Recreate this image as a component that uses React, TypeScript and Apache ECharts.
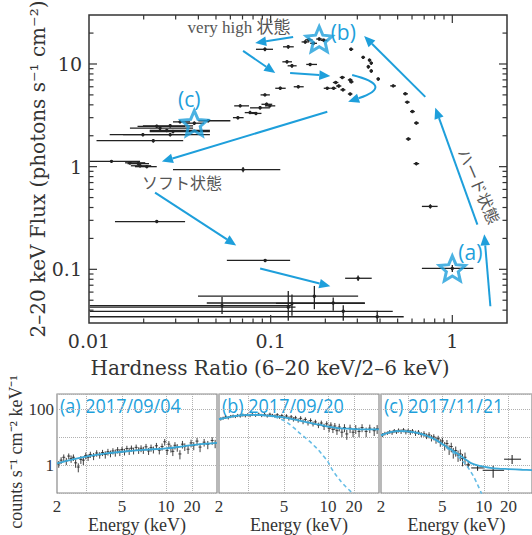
import React, { useEffect, useRef } from 'react';
import * as echarts from 'echarts';

// ---------- main panel: hardness ratio vs 2-20 keV flux ----------
// [hardness, flux, hardnessLow, hardnessHigh, fluxLow, fluxHigh]
const hardnessFlux: number[][] = [
  [0.093, 13.9, 0.083, 0.103, 13.3, 14.5],
  [0.125, 14.7, 0.117, 0.134, 14.1, 15.3],
  [0.123, 10.5, 0.116, 0.131, 10.1, 10.9],
  [0.131, 9.6, 0.124, 0.139, 9.2, 10.0],
  [0.155, 16.4, 0.148, 0.163, 15.8, 17.0],
  [0.162, 17.2, 0.155, 0.17, 16.6, 17.8],
  [0.172, 15.9, 0.165, 0.18, 15.3, 16.5],
  [0.196, 17.0, 0.188, 0.205, 16.4, 17.6],
  [0.185, 17.5, 0.178, 0.193, 16.9, 18.1],
  [0.277, 13.9, 0.27, 0.285, 13.4, 14.4],
  [0.323, 11.6, 0.316, 0.331, 11.2, 12.0],
  [0.35, 10.9, 0.343, 0.358, 10.5, 11.3],
  [0.358, 10.2, 0.351, 0.366, 9.8, 10.6],
  [0.345, 9.4, 0.338, 0.353, 9.0, 9.8],
  [0.358, 8.55, 0.351, 0.366, 8.2, 8.9],
  [0.391, 7.15, 0.383, 0.4, 6.9, 7.4],
  [0.165, 9.9, 0.157, 0.18, 9.6, 10.2],
  [0.113, 5.8, 0.106, 0.121, 5.6, 6.0],
  [0.142, 6.0, 0.134, 0.152, 5.8, 6.2],
  [0.093, 5.0, 0.088, 0.099, 4.85, 5.15],
  [0.068, 3.91, 0.063, 0.076, 3.8, 4.05],
  [0.0875, 3.74, 0.077, 0.099, 3.6, 3.9],
  [0.099, 3.91, 0.093, 0.106, 3.8, 4.05],
  [0.095, 4.05, 0.089, 0.102, 3.9, 4.2],
  [0.077, 3.36, 0.072, 0.083, 3.25, 3.5],
  [0.083, 3.3, 0.078, 0.089, 3.2, 3.4],
  [0.066, 3.0, 0.062, 0.071, 2.9, 3.1],
  [0.0453, 2.8, 0.04, 0.06, 2.7, 2.9],
  [0.038, 2.65, 0.034, 0.043, 2.55, 2.75],
  [0.028, 2.5, 0.0198, 0.0374, 2.4, 2.6],
  [0.0246, 2.37, 0.0168, 0.0374, 2.28, 2.46],
  [0.0268, 2.25, 0.0216, 0.0463, 2.17, 2.33],
  [0.029, 2.2, 0.0216, 0.0463, 2.12, 2.28],
  [0.0198, 2.05, 0.013, 0.0347, 1.97, 2.13],
  [0.028, 2.05, 0.0154, 0.0463, 1.97, 2.13],
  [0.0226, 1.79, 0.011, 0.033, 1.72, 1.86],
  [0.0317, 2.73, 0.029, 0.036, 2.65, 2.81],
  [0.0236, 2.47, 0.0185, 0.0338, 2.38, 2.56],
  [0.0133, 1.126, 0.0101, 0.0191, 1.09, 1.16],
  [0.0168, 1.09, 0.0158, 0.0204, 1.05, 1.13],
  [0.0187, 1.07, 0.0163, 0.0214, 1.03, 1.11],
  [0.0208, 1.0, 0.0179, 0.0236, 0.965, 1.035],
  [0.0191, 1.02, 0.017, 0.022, 0.985, 1.055],
  [0.0705, 0.935, 0.029, 0.113, 0.88, 0.99],
  [0.473, 6.12, 0.455, 0.49, 5.95, 6.3],
  [0.551, 5.12, 0.535, 0.57, 4.98, 5.26],
  [0.565, 4.25, 0.548, 0.583, 4.13, 4.37],
  [0.603, 3.44, 0.585, 0.622, 3.34, 3.54],
  [0.634, 2.66, 0.615, 0.655, 2.58, 2.74],
  [0.573, 1.86, 0.555, 0.592, 1.8, 1.92],
  [0.634, 1.07, 0.612, 0.657, 1.03, 1.11],
  [0.757, 0.41, 0.68, 0.83, 0.39, 0.43],
  [1.0, 0.102, 0.68, 1.306, 0.094, 0.11],
  [0.303, 0.0818, 0.257, 0.36, 0.077, 0.087],
  [0.248, 7.4, 0.24, 0.256, 7.2, 7.6],
  [0.274, 7.0, 0.266, 0.282, 6.8, 7.2],
  [0.278, 6.7, 0.27, 0.286, 6.5, 6.9],
  [0.228, 6.6, 0.22, 0.236, 6.4, 6.8],
  [0.237, 6.1, 0.229, 0.245, 5.9, 6.3],
  [0.222, 5.8, 0.214, 0.23, 5.63, 5.97],
  [0.205, 5.8, 0.196, 0.214, 5.63, 5.97],
  [0.25, 5.6, 0.242, 0.258, 5.44, 5.76],
  [0.274, 5.1, 0.266, 0.282, 4.95, 5.25],
  [0.0236, 0.292, 0.0139, 0.0338, 0.285, 0.299],
  [0.0933, 0.122, 0.0574, 0.128, 0.118, 0.126],
  [0.174, 0.0547, 0.0398, 0.303, 0.0409, 0.0689],
  [0.221, 0.047, 0.0445, 0.33, 0.0394, 0.0531],
  [0.054, 0.0443, 0.0101, 0.13, 0.0368, 0.0536],
  [0.125, 0.0428, 0.0101, 0.137, 0.0315, 0.0615],
  [0.131, 0.0465, 0.107, 0.33, 0.0352, 0.057],
  [0.251, 0.039, 0.0101, 0.47, 0.0315, 0.0446],
  [0.386, 0.0345, 0.0101, 0.54, 0.0305, 0.0394],
];

const starPoints = [[1.0, 0.102], [0.185, 17.5], [0.038, 2.65]];
const starLabels = ['(a)', '(b)', '(c)'];
const starLabelPos = [[1.256, 0.146], [0.251, 20.5], [0.0356, 4.57]];

const stateLabels = ['very high 状態', 'ソフト状態', 'ハード状態'];
const stateLabelPos = [[0.067, 22.9], [0.0325, 0.692], [1.39, 0.64]];

// [fromHR, fromFlux, toHR, toFlux]
const arrows = [
  [0.133, 18.3, 0.0822, 16.0],
  [0.0705, 13.4, 0.106, 8.18],
  [0.128, 8.18, 0.213, 7.65],
  [0.205, 3.42, 0.0252, 1.12],
  [0.71, 4.78, 0.327, 18.7],
  [1.374, 0.273, 0.806, 3.74],
  [1.62, 0.0437, 1.5, 0.219],
  [0.0231, 0.559, 0.0646, 0.171],
  [0.0875, 0.102, 0.213, 0.0684],
];
// [fromHR, fromFlux, ctrlHR, ctrlFlux, toHR, toFlux]
const curvedArrows = [[0.281, 7.82, 0.485, 6.12, 0.267, 4.28]];

const hrMajorTicks = [0.1, 1];
const hrMinorTicks = [0.02, 0.03, 0.04, 0.05, 0.06, 0.07, 0.08, 0.09, 0.2, 0.3, 0.4, 0.5, 0.6, 0.7, 0.8, 0.9];
const fluxMajorTicks = [0.1, 1, 10];
const fluxMinorTicks = [0.04, 0.05, 0.06, 0.07, 0.08, 0.09, 0.2, 0.3, 0.4, 0.5, 0.6, 0.7, 0.8, 0.9, 2, 3, 4, 5, 6, 7, 8, 9, 20];

// ---------- spectra panels ----------
const ENERGY_LABELS = [2, 5, 10, 20];
const ENERGY_GRID = [3, 5, 10, 20];
const E_KNOTS = [2, 5, 10, 20, 40];
const U_KNOTS = [0, 65, 109, 135, 160];
const panelTitles = ['(a) 2017/09/04', '(b) 2017/09/20', '(c) 2017/11/21'];

// [energy keV, counts, error]
const specA = [
  [2.05, 1.1, 0.3], [2.12, 1.5, 0.4], [2.2, 1.9, 0.5], [2.28, 1.4, 0.4], [2.36, 2.1, 0.5], [2.44, 1.7, 0.5],
  [2.52, 1.9, 0.5], [2.6, 1.2, 0.4], [2.7, 0.85, 0.3], [2.8, 1.6, 0.5], [2.9, 1.5, 0.5], [3.0, 2.2, 0.6],
  [3.1, 1.9, 0.5], [3.2, 2.4, 0.6], [3.35, 2.1, 0.6], [3.5, 2.7, 0.7], [3.65, 2.3, 0.6], [3.8, 2.8, 0.7],
  [3.95, 2.4, 0.7], [4.1, 3.0, 0.8], [4.25, 2.6, 0.7], [4.4, 3.2, 0.8], [4.55, 2.8, 0.8], [4.7, 3.5, 0.9],
  [4.85, 2.9, 0.8], [5.0, 3.6, 0.9], [5.2, 3.0, 0.8], [5.4, 3.9, 1.0], [5.6, 3.2, 0.9], [5.8, 4.0, 1.0],
  [6.0, 3.3, 0.9], [6.25, 4.3, 1.1], [6.5, 3.4, 0.9], [6.75, 4.0, 1.1], [7.0, 3.5, 1.0], [7.3, 4.5, 1.2],
  [7.6, 3.2, 0.9], [7.9, 4.2, 1.2], [8.2, 3.6, 1.0], [8.6, 4.9, 1.3], [9.0, 3.4, 1.0], [9.4, 4.6, 1.3],
  [9.8, 6.8, 1.8], [10.3, 3.3, 1.0], [10.8, 5.6, 1.6], [11.4, 4.0, 1.2], [12.0, 3.1, 1.0], [12.7, 5.1, 1.5],
  [13.5, 4.3, 1.3], [14.5, 2.5, 0.9], [15.5, 5.6, 1.7], [16.5, 4.6, 1.4], [18, 3.7, 1.2], [19.5, 6.2, 1.9],
  [21, 5.0, 1.6], [23, 7.2, 2.2], [25, 4.4, 1.5], [28, 6.6, 2.0], [31, 5.5, 1.8], [35, 7.6, 2.3], [38, 6.0, 2.0],
];
const specB = [
  [2.05, 45, 6], [2.12, 48, 6], [2.2, 52, 7], [2.28, 50, 7], [2.36, 55, 7], [2.44, 57, 7], [2.52, 55, 7],
  [2.6, 60, 8], [2.7, 58, 8], [2.8, 62, 8], [2.9, 59, 8], [3.0, 64, 8], [3.1, 60, 8], [3.2, 65, 8],
  [3.35, 61, 8], [3.5, 66, 9], [3.65, 60, 8], [3.8, 65, 9], [3.95, 58, 8], [4.1, 66, 9], [4.25, 60, 8],
  [4.4, 57, 8], [4.55, 63, 9], [4.7, 53, 8], [4.85, 59, 9], [5.0, 50, 8], [5.2, 57, 9], [5.4, 47, 8],
  [5.6, 53, 9], [5.8, 44, 8], [6.0, 49, 9], [6.25, 40, 7], [6.5, 47, 9], [6.75, 36, 7], [7.0, 43, 8],
  [7.3, 33, 7], [7.6, 39, 8], [7.9, 30, 6], [8.2, 35, 7], [8.6, 27, 6], [9.0, 32, 7], [9.4, 24, 6],
  [9.8, 30, 7], [10.3, 21, 6], [10.8, 27, 7], [11.4, 19, 5], [12.0, 25, 7], [12.7, 17, 5], [13.5, 23, 7],
  [14.5, 15, 5], [15.5, 22, 7], [16.5, 13, 5], [18, 21, 7], [19.5, 15, 5], [21, 20, 7], [23, 16, 6],
  [25, 22, 7], [28, 16, 6], [31, 21, 7], [35, 17, 6], [38, 20, 7],
];
const specC = [
  [2.05, 12, 2], [2.12, 13.5, 2], [2.2, 14, 2], [2.28, 15.5, 2.5], [2.36, 14.5, 2.5], [2.44, 17, 2.5],
  [2.52, 15.5, 2.5], [2.6, 17.5, 3], [2.7, 16, 3], [2.8, 18, 3], [2.9, 15.5, 3], [3.0, 17, 3], [3.1, 15, 3],
  [3.2, 16.5, 3], [3.35, 14, 3], [3.5, 15, 3], [3.65, 12.5, 2.5], [3.8, 13.2, 3], [3.95, 11, 2.5],
  [4.1, 12, 3], [4.25, 9.5, 2.5], [4.4, 10.2, 2.5], [4.55, 8, 2.2], [4.7, 8.8, 2.4], [4.85, 6.5, 2],
  [5.0, 7.3, 2.2], [5.2, 5.0, 1.7], [5.4, 5.9, 2], [5.6, 3.7, 1.4], [5.8, 4.6, 1.7], [6.0, 2.9, 1.2],
  [6.25, 3.3, 1.3], [6.5, 2.3, 1], [6.75, 2.5, 1.1], [7.0, 1.7, 0.8], [7.3, 1.9, 0.9],
];
// [energy, energyLow, energyHigh, counts, countsLow, countsHigh]
const specCWide = [
  [7.7, 7.45, 7.95, 1.02, 0.8, 1.25],
  [9.0, 8.1, 10.0, 0.79, 0.62, 0.98],
  [13.0, 9.8, 17.7, 0.65, 0.35, 0.95],
  [22.3, 17.7, 29, 1.62, 1.1, 2.3],
];

const modelAE = [2, 2.5, 3, 4, 5, 7, 10, 15, 20, 30, 40];
const modelA = [1.15, 1.6, 2.0, 2.6, 3.0, 3.5, 3.95, 4.6, 5.2, 5.8, 6.2];
const modelBE = [2, 2.4, 2.8, 3.2, 3.6, 4, 4.5, 5, 5.5, 6, 7, 8, 9, 10, 12, 14, 17, 20, 25, 30, 40];
const modelB = [44, 54, 61, 63, 62, 59, 55, 51, 46, 42, 35, 30, 27, 24, 22, 20.5, 20, 19.5, 19, 19, 18.8];
const modelBdE = [2, 2.4, 2.8, 3.2, 3.6, 4, 4.5, 5, 5.5, 6, 6.5, 7, 7.5, 8, 8.5, 9, 10, 11, 12, 14, 16, 18, 20];
const modelBd = [44, 54, 61, 63, 62, 58, 50, 39, 28, 19, 13, 9.5, 7, 5, 3.7, 2.6, 1.3, 0.75, 0.5, 0.27, 0.17, 0.12, 0.09];
const modelCE = [2, 2.3, 2.6, 3, 3.5, 4, 4.5, 5, 5.5, 6, 6.5, 7, 7.5, 8, 9, 10, 12, 15, 20, 30, 40];
const modelC = [11.6, 15, 16.5, 16, 14, 11, 8.2, 5.7, 4.2, 3.2, 2.5, 1.9, 1.5, 1.2, 0.98, 0.88, 0.8, 0.75, 0.72, 0.68, 0.66];
const modelCdE = [2, 2.3, 2.6, 3, 3.5, 4, 4.5, 5, 5.5, 6, 6.5, 7, 7.5, 8, 8.5, 9, 9.5, 10];
const modelCd = [11.6, 15, 16.5, 16, 14, 11, 8.1, 5.5, 3.9, 2.8, 2.0, 1.4, 0.95, 0.6, 0.36, 0.2, 0.11, 0.06];

// ---------- styling ----------
const BLUE = '#1e9fdb';
const LINE_BLUE = '#3aa8d8';
const DASH_BLUE = '#66bde6';
const INK = '#222';
const MAIN_FONT = '"DejaVu Serif", serif';
const SUB_FONT = '"Liberation Serif", serif';
const CJK_SERIF = '"Liberation Serif", "Noto Sans CJK JP", sans-serif';
const STAR = 'path://M12,0L15.23,7.55L23.41,8.29L17.23,13.7L19.05,21.71L12,17.5L4.95,21.71L6.77,13.7L0.59,8.29L8.77,7.55Z';

// piecewise-log energy axis (as in the original spectra panels)
function eToU(e: number): number {
  let i = 0;
  while (i < E_KNOTS.length - 2 && e > E_KNOTS[i + 1]) i++;
  const t = Math.log(e / E_KNOTS[i]) / Math.log(E_KNOTS[i + 1] / E_KNOTS[i]);
  return U_KNOTS[i] + t * (U_KNOTS[i + 1] - U_KNOTS[i]);
}

function isPow10(v: number) {
  const l = Math.log10(v);
  return Math.abs(l - Math.round(l)) < 1e-6;
}

function arrowGroup(p1: number[], p2: number[], ctrl?: number[]) {
  const from = ctrl || p1;
  const dx = p2[0] - from[0];
  const dy = p2[1] - from[1];
  const len = Math.hypot(dx, dy) || 1;
  const ux = dx / len;
  const uy = dy / len;
  const hl = 11;
  const hw = 4.8;
  const base = [p2[0] - ux * hl, p2[1] - uy * hl];
  const left = [base[0] - uy * hw, base[1] + ux * hw];
  const right = [base[0] + uy * hw, base[1] - ux * hw];
  const line: any = ctrl
    ? { type: 'bezierCurve', shape: { x1: p1[0], y1: p1[1], x2: base[0], y2: base[1], cpx1: ctrl[0], cpy1: ctrl[1] }, style: { stroke: BLUE, lineWidth: 2, fill: 'none' } }
    : { type: 'line', shape: { x1: p1[0], y1: p1[1], x2: base[0], y2: base[1] }, style: { stroke: BLUE, lineWidth: 2 } };
  return {
    type: 'group',
    children: [line, { type: 'polygon', shape: { points: [p2, left, right] }, style: { fill: BLUE } }],
  };
}

function buildOption() {
  const labelU = ENERGY_LABELS.map(eToU);
  const gridU = ENERGY_GRID.map(eToU);

  const tickData = [
    ...hrMinorTicks.map((v) => [v, 1, 0]),
    ...hrMajorTicks.map((v) => [v, 1, 1]),
    ...fluxMinorTicks.map((v) => [0.1, v, 2]),
    ...fluxMajorTicks.map((v) => [0.1, v, 3]),
  ];

  const panelGridLeft = [57, 219, 381];
  const grids: any[] = [
    { left: 89, top: 15, width: 418, height: 308, show: true, borderColor: '#333', borderWidth: 1.5, containLabel: false },
    ...panelGridLeft.map((l) => ({ left: l, top: 394, width: 160, height: 102, show: true, borderColor: '#8a8a8a', borderWidth: 1.2 })),
  ];

  const xAxes: any[] = [
    {
      type: 'log', gridIndex: 0, min: 0.01, max: 2, logBase: 10,
      axisLine: { show: false }, axisTick: { show: false }, splitLine: { show: false },
      axisLabel: {
        formatter: (v: number) => (isPow10(v) ? String(+v.toPrecision(1)) : ''),
        fontFamily: MAIN_FONT, fontSize: 19, color: '#333', margin: 8,
      },
    },
    ...[1, 2, 3].map((g) => ({
      type: 'value', gridIndex: g, min: 0, max: 160,
      axisLine: { show: false },
      axisTick: { show: false, customValues: gridU },
      axisLabel: {
        customValues: labelU,
        formatter: (v: number) => {
          const i = labelU.findIndex((u) => Math.abs(u - v) < 0.5);
          return i >= 0 ? String(ENERGY_LABELS[i]) : '';
        },
        fontFamily: SUB_FONT, fontSize: 17, color: '#333', margin: 5,
      },
      splitLine: { show: true, lineStyle: { color: '#b0b0b0', type: 'dotted', width: 1 } },
      name: 'Energy (keV)', nameLocation: 'middle', nameGap: 23,
      nameTextStyle: { fontFamily: SUB_FONT, fontSize: 18, color: '#333' },
    })),
  ];

  const yAxes: any[] = [
    {
      type: 'log', gridIndex: 0, min: 0.03, max: 30, logBase: 10,
      axisLine: { show: false }, axisTick: { show: false }, splitLine: { show: false },
      axisLabel: {
        formatter: (v: number) => (isPow10(v) ? String(+v.toPrecision(1)) : ''),
        fontFamily: MAIN_FONT, fontSize: 19, color: '#333', margin: 7,
      },
    },
    ...[1, 2, 3].map((g) => ({
      type: 'log', gridIndex: g, min: 0.1, max: 350, logBase: 10,
      axisLine: { show: false }, axisTick: { show: false },
      axisLabel: {
        show: g === 1,
        formatter: (v: number) => (Math.abs(v - 1) < 1e-6 ? '1' : Math.abs(v - 100) < 1e-4 ? '100' : ''),
        fontFamily: SUB_FONT, fontSize: 17, color: '#333', margin: 3,
      },
      splitLine: { show: true, lineStyle: { color: '#b0b0b0', type: 'dotted', width: 1 } },
    })),
  ];

  const specErr = (rows: number[][]) => rows.map(([e, y, d]) => [eToU(e), y, y - d, y + d]);
  const wideErr = (rows: number[][]) => rows.map(([e, el, eh, y, yl, yh]) => [eToU(e), y, yl, yh, eToU(el), eToU(eh)]);
  const lineData = (es: number[], ys: number[]) => es.map((e, i) => [eToU(e), ys[i]]);

  const makeSpecRender = (wide: boolean) => (params: any, api: any) => {
    const u = api.value(0);
    const c = api.coord([u, api.value(1)]);
    const lo = api.coord([u, api.value(2)]);
    const hi = api.coord([u, api.value(3)]);
    const xl = wide ? api.coord([api.value(4), api.value(1)])[0] : c[0] - 1.5;
    const xr = wide ? api.coord([api.value(5), api.value(1)])[0] : c[0] + 1.5;
    const st = { stroke: '#2a2a2a', lineWidth: wide ? 1.1 : 0.9 };
    return {
      type: 'group',
      children: [
        { type: 'line', shape: { x1: c[0], y1: lo[1], x2: c[0], y2: hi[1] }, style: st },
        { type: 'line', shape: { x1: xl, y1: c[1], x2: xr, y2: c[1] }, style: st },
      ],
    };
  };

  const panelSeries: any[] = [];
  const panels = [
    { spec: specA, wide: [] as number[][], mE: modelAE, m: modelA, dE: null as number[] | null, d: null as number[] | null },
    { spec: specB, wide: [], mE: modelBE, m: modelB, dE: modelBdE, d: modelBd },
    { spec: specC, wide: specCWide, mE: modelCE, m: modelC, dE: modelCdE, d: modelCd },
  ];
  panels.forEach((p, i) => {
    const g = i + 1;
    panelSeries.push({
      type: 'custom', xAxisIndex: g, yAxisIndex: g, clip: true,
      encode: { x: 0, y: 1 },
      data: specErr(p.spec),
      renderItem: makeSpecRender(false),
    });
    if (p.wide.length) {
      panelSeries.push({
        type: 'custom', xAxisIndex: g, yAxisIndex: g, clip: true,
        encode: { x: 0, y: 1 },
        dimensions: ['u', 'y', 'ylo', 'yhi', 'ulo', 'uhi'],
        data: wideErr(p.wide),
        renderItem: makeSpecRender(true),
      });
    }
    if (p.dE && p.d) {
      panelSeries.push({
        type: 'line', xAxisIndex: g, yAxisIndex: g, data: lineData(p.dE, p.d), smooth: 0.3,
        showSymbol: false, clip: true,
        lineStyle: { color: DASH_BLUE, width: 1.6, type: [4, 3] },
      });
    }
    panelSeries.push({
      type: 'line', xAxisIndex: g, yAxisIndex: g, data: lineData(p.mE, p.m), smooth: 0.3,
      showSymbol: false, clip: true,
      lineStyle: { color: LINE_BLUE, width: 1.8 },
    });
  });

  const series: any[] = [
    {
      type: 'custom', xAxisIndex: 0, yAxisIndex: 0, clip: true,
      encode: { x: 0, y: 1 },
      dimensions: ['hr', 'flux', 'hrLo', 'hrHi', 'fLo', 'fHi'],
      data: hardnessFlux,
      renderItem: (params: any, api: any) => {
        const x = api.value(0);
        const y = api.value(1);
        const c = api.coord([x, y]);
        const l = api.coord([api.value(2), y]);
        const r = api.coord([api.value(3), y]);
        const b = api.coord([x, api.value(4)]);
        const t = api.coord([x, api.value(5)]);
        const st = { stroke: INK, lineWidth: 1.3 };
        return {
          type: 'group',
          children: [
            { type: 'line', shape: { x1: l[0], y1: c[1], x2: r[0], y2: c[1] }, style: st },
            { type: 'line', shape: { x1: c[0], y1: b[1], x2: c[0], y2: t[1] }, style: st },
            { type: 'circle', shape: { cx: c[0], cy: c[1], r: 1.7 }, style: { fill: INK } },
          ],
        };
      },
    },
    {
      type: 'custom', xAxisIndex: 0, yAxisIndex: 0, clip: false, silent: true,
      encode: { x: 0, y: 1 },
      data: tickData,
      renderItem: (params: any, api: any) => {
        const cs = params.coordSys;
        const kind = api.value(2);
        const len = kind % 2 === 1 ? 8 : 4.5;
        const st = { stroke: '#333', lineWidth: 1.2 };
        if (kind < 2) {
          const x = api.coord([api.value(0), 1])[0];
          return {
            type: 'group',
            children: [
              { type: 'line', shape: { x1: x, y1: cs.y + cs.height, x2: x, y2: cs.y + cs.height - len }, style: st },
              { type: 'line', shape: { x1: x, y1: cs.y, x2: x, y2: cs.y + len }, style: st },
            ],
          };
        }
        const y = api.coord([0.1, api.value(1)])[1];
        return {
          type: 'group',
          children: [
            { type: 'line', shape: { x1: cs.x, y1: y, x2: cs.x + len, y2: y }, style: st },
            { type: 'line', shape: { x1: cs.x + cs.width, y1: y, x2: cs.x + cs.width - len, y2: y }, style: st },
          ],
        };
      },
    },
    {
      type: 'custom', xAxisIndex: 0, yAxisIndex: 0, clip: false, silent: true,
      encode: { x: [0, 2], y: [1, 3] },
      data: arrows,
      renderItem: (params: any, api: any) =>
        arrowGroup(api.coord([api.value(0), api.value(1)]), api.coord([api.value(2), api.value(3)])),
    },
    {
      type: 'custom', xAxisIndex: 0, yAxisIndex: 0, clip: false, silent: true,
      encode: { x: [0, 2, 4], y: [1, 3, 5] },
      data: curvedArrows,
      renderItem: (params: any, api: any) =>
        arrowGroup(
          api.coord([api.value(0), api.value(1)]),
          api.coord([api.value(4), api.value(5)]),
          api.coord([api.value(2), api.value(3)]),
        ),
    },
    {
      type: 'scatter', xAxisIndex: 0, yAxisIndex: 0, data: starPoints,
      symbol: STAR, symbolSize: [26, 25], silent: true,
      itemStyle: { color: 'rgba(255,255,255,0)', borderColor: BLUE, borderWidth: 3 },
    },
    {
      type: 'custom', xAxisIndex: 0, yAxisIndex: 0, clip: false, silent: true,
      encode: { x: 0, y: 1 },
      data: starLabelPos,
      renderItem: (params: any, api: any) => {
        const p = api.coord([api.value(0), api.value(1)]);
        return {
          type: 'text', x: p[0], y: p[1],
          style: { text: starLabels[params.dataIndex], fill: BLUE, font: '21px "Open Sans", sans-serif', align: 'center', verticalAlign: 'middle' },
        };
      },
    },
    {
      type: 'custom', xAxisIndex: 0, yAxisIndex: 0, clip: false, silent: true,
      encode: { x: 0, y: 1 },
      data: stateLabelPos,
      renderItem: (params: any, api: any) => {
        const p = api.coord([api.value(0), api.value(1)]);
        const i = params.dataIndex;
        return {
          type: 'text', x: p[0], y: p[1], rotation: i === 2 ? -1.16 : 0,
          style: {
            text: stateLabels[i], fill: '#555',
            font: (i === 0 ? '17px ' : '16px ') + CJK_SERIF,
            align: 'center', verticalAlign: 'middle',
          },
        };
      },
    },
    ...panelSeries,
  ];

  const graphic: any[] = [
    {
      type: 'text', x: 270, y: 368, silent: true,
      style: { text: 'Hardness Ratio (6–20 keV/2–6 keV)', font: '20px ' + MAIN_FONT, fill: '#333', align: 'center', verticalAlign: 'middle', textAlign: 'center', textVerticalAlign: 'middle' },
    },
    {
      type: 'text', x: 38, y: 169, rotation: Math.PI / 2, silent: true,
      style: { text: '2–20 keV Flux (photons s⁻¹ cm⁻²)', font: '20px ' + MAIN_FONT, fill: '#333', align: 'center', verticalAlign: 'middle', textAlign: 'center', textVerticalAlign: 'middle' },
    },
    {
      type: 'text', x: 16, y: 452, rotation: Math.PI / 2, silent: true,
      style: { text: 'counts s⁻¹ cm⁻² keV⁻¹', font: '18px ' + SUB_FONT, fill: '#333', align: 'center', verticalAlign: 'middle', textAlign: 'center', textVerticalAlign: 'middle' },
    },
    ...panelTitles.map((t, i) => ({
      type: 'text', x: panelGridLeft[i] + 3, y: 406, scaleX: 0.9, silent: true,
      style: { text: t, font: '500 20px "Open Sans", sans-serif', fill: BLUE, align: 'left', verticalAlign: 'middle', textAlign: 'left', textVerticalAlign: 'middle' },
    })),
  ];

  return {
    animation: false,
    backgroundColor: '#fff',
    grid: grids,
    xAxis: xAxes,
    yAxis: yAxes,
    series,
    graphic,
  };
}

export default function App() {
  const ref = useRef<HTMLDivElement>(null);
  useEffect(() => {
    if (!ref.current) return;
    const chart = echarts.init(ref.current, null, { renderer: 'svg' });
    chart.setOption(buildOption() as any);
    return () => chart.dispose();
  }, []);
  return <div ref={ref} style={{ position: 'fixed', left: 0, top: 0, width: 532, height: 535 }} />;
}
